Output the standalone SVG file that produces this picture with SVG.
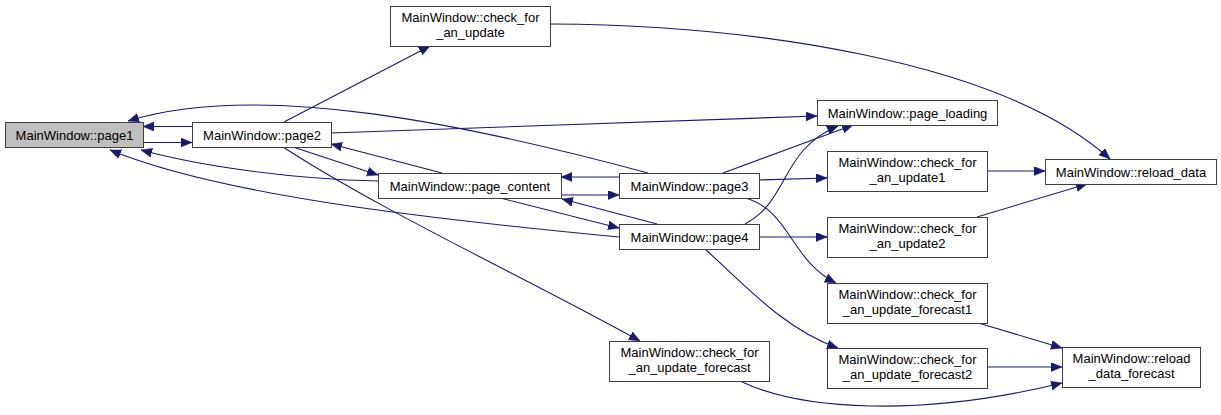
<svg xmlns="http://www.w3.org/2000/svg" width="1221" height="415" viewBox="0 0 1221 415">
<defs>
<style>
.node rect{fill:#ffffff;stroke:#404040;stroke-width:1}
.node.root rect{fill:#bfbfbf}
.node text{font-family:"Liberation Sans",Arial,sans-serif;font-size:13px;fill:#000;text-anchor:middle}
.edges path{fill:none;stroke:#191970;stroke-width:1.1}
</style>
<marker id="ah" markerUnits="userSpaceOnUse" markerWidth="12" markerHeight="10" refX="11" refY="4.5" orient="auto">
<path d="M0,0 L11,4.5 L0,9 z" fill="#191970" stroke="#191970" stroke-width="0.5"/>
</marker>
</defs>
<rect x="0" y="0" width="1221" height="415" fill="#ffffff"/>
<g class="edges" marker-end="url(#ah)">
<path d="M143,142.5 L192,142.5" marker-end="url(#ah)"/>
<path d="M192,126.5 L143,126.5" marker-end="url(#ah)"/>
<path d="M284,122 L430,46" marker-end="url(#ah)"/>
<path d="M331,133 L817,116" marker-end="url(#ah)"/>
<path d="M293,147 L378,175" marker-end="url(#ah)"/>
<path d="M442,173 L331,144" marker-end="url(#ah)"/>
<path d="M378,181 C290,179 200,166 141,150" marker-end="url(#ah)"/>
<path d="M648,173 C470,125 260,80 128,121" marker-end="url(#ah)"/>
<path d="M619,237 C420,218 220,195 110,150" marker-end="url(#ah)"/>
<path d="M561,195 L619,195" marker-end="url(#ah)"/>
<path d="M619,177 L561,177" marker-end="url(#ah)"/>
<path d="M500,198 L619,228" marker-end="url(#ah)"/>
<path d="M657,224 L562,199" marker-end="url(#ah)"/>
<path d="M723,173 L853,125" marker-end="url(#ah)"/>
<path d="M745,224 C790,200 780,150 838,126" marker-end="url(#ah)"/>
<path d="M759,180 L827,178" marker-end="url(#ah)"/>
<path d="M745,198 C790,210 790,260 836,283" marker-end="url(#ah)"/>
<path d="M759,237 L827,237" marker-end="url(#ah)"/>
<path d="M705,249 C745,285 785,330 838,348" marker-end="url(#ah)"/>
<path d="M283,147 C380,210 520,275 640,341" marker-end="url(#ah)"/>
<path d="M550,24 C750,25 1000,60 1110,159" marker-end="url(#ah)"/>
<path d="M987,171 L1045,171" marker-end="url(#ah)"/>
<path d="M977,217 L1087,184" marker-end="url(#ah)"/>
<path d="M975,322 L1062,348" marker-end="url(#ah)"/>
<path d="M987,367 L1062,367" marker-end="url(#ah)"/>
<path d="M740,381 C800,410 920,418 1062,383" marker-end="url(#ah)"/>
</g>
<g id="page1" class="node root"><rect x="5.5" y="122.5" width="138" height="25"/><text x="74.5" y="139.5">MainWindow::page1</text></g>
<g id="page2" class="node"><rect x="192.5" y="122.5" width="139" height="25"/><text x="262" y="139.5">MainWindow::page2</text></g>
<g id="check_for_an_update" class="node"><rect x="390.5" y="6.5" width="160" height="40"/><text x="470.5" y="22">MainWindow::check_for</text><text x="470.5" y="37">_an_update</text></g>
<g id="page_content" class="node"><rect x="378.5" y="173.5" width="183" height="25"/><text x="470" y="190.5">MainWindow::page_content</text></g>
<g id="page3" class="node"><rect x="619.5" y="173.5" width="140" height="25"/><text x="689.5" y="190.5">MainWindow::page3</text></g>
<g id="page4" class="node"><rect x="619.5" y="224.5" width="140" height="25"/><text x="689.5" y="241.5">MainWindow::page4</text></g>
<g id="page_loading" class="node"><rect x="817.5" y="100.5" width="180" height="25"/><text x="907.5" y="117.5">MainWindow::page_loading</text></g>
<g id="check_for_an_update1" class="node"><rect x="827.5" y="151.5" width="160" height="40"/><text x="907.5" y="167">MainWindow::check_for</text><text x="907.5" y="182">_an_update1</text></g>
<g id="check_for_an_update2" class="node"><rect x="827.5" y="217.5" width="160" height="40"/><text x="907.5" y="233">MainWindow::check_for</text><text x="907.5" y="248">_an_update2</text></g>
<g id="reload_data" class="node"><rect x="1045.5" y="159.5" width="171" height="25"/><text x="1131" y="176.5">MainWindow::reload_data</text></g>
<g id="check_for_an_update_forecast1" class="node"><rect x="827.5" y="283.5" width="160" height="40"/><text x="907.5" y="299">MainWindow::check_for</text><text x="907.5" y="314">_an_update_forecast1</text></g>
<g id="check_for_an_update_forecast2" class="node"><rect x="827.5" y="348.5" width="160" height="40"/><text x="907.5" y="364">MainWindow::check_for</text><text x="907.5" y="379">_an_update_forecast2</text></g>
<g id="check_for_an_update_forecast" class="node"><rect x="609.5" y="341.5" width="160" height="40"/><text x="689.5" y="357">MainWindow::check_for</text><text x="689.5" y="372">_an_update_forecast</text></g>
<g id="reload_data_forecast" class="node"><rect x="1062.5" y="347.5" width="138" height="40"/><text x="1131.5" y="363">MainWindow::reload</text><text x="1131.5" y="378">_data_forecast</text></g>
</svg>
